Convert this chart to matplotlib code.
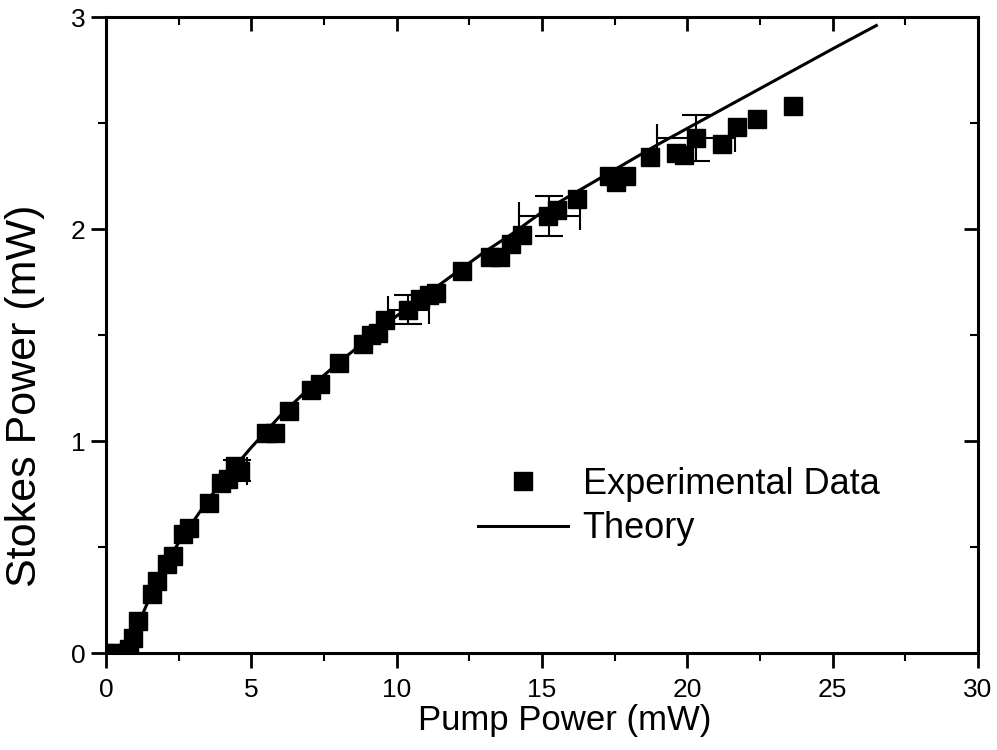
import matplotlib.pyplot as plt
from matplotlib.ticker import MultipleLocator

plt.rcParams['font.family'] = ['Liberation Sans', 'DejaVu Sans']

# Experimental data (pump power mW, Stokes power mW)
pump = [0.0, 0.35, 0.7, 0.8, 0.93, 1.1, 1.6, 1.75, 2.1, 2.3, 2.65, 2.85, 3.55, 3.95,
        4.2, 4.45, 4.6, 5.5, 5.8, 6.3, 7.05, 7.35, 8.0, 8.85, 9.1, 9.35, 9.6, 10.4,
        10.8, 11.1, 11.35, 12.25, 13.2, 13.55, 13.95, 14.3, 15.2, 15.5, 16.2, 17.3,
        17.55, 17.9, 18.7, 19.6, 19.9, 20.3, 21.2, 21.7, 22.4, 23.65]
stokes = [0.0, 0.0, 0.0, 0.02, 0.07, 0.15, 0.28, 0.34, 0.42, 0.46, 0.56, 0.59, 0.71, 0.80,
          0.82, 0.88, 0.86, 1.04, 1.04, 1.14, 1.24, 1.27, 1.37, 1.46, 1.50, 1.51, 1.57, 1.62,
          1.67, 1.69, 1.70, 1.80, 1.87, 1.87, 1.93, 1.97, 2.06, 2.09, 2.14, 2.25,
          2.22, 2.25, 2.34, 2.36, 2.35, 2.43, 2.40, 2.48, 2.52, 2.58]

# points carrying error bars
err_pump = [4.5, 10.4, 15.25, 20.3]
err_stokes = [0.86, 1.62, 2.06, 2.43]
err_x = [0.35, 0.7, 1.05, 1.35]
err_y = [0.05, 0.07, 0.095, 0.11]

# Theory curve
theory_pump = [0.75, 1.0, 1.5, 2.0, 2.5, 3.0, 3.5, 4.0, 5.0, 6.0, 7.0, 8.0, 9.0, 10.0,
               11.0, 12.0, 13.0, 14.0, 15.0, 16.0, 17.0, 18.0, 19.0, 20.0, 21.0, 22.0,
               23.0, 24.0, 25.0, 26.5]
theory_stokes = [0.0, 0.1, 0.26, 0.41, 0.52, 0.62, 0.72, 0.81, 0.97, 1.12, 1.25, 1.37,
                 1.48, 1.59, 1.69, 1.79, 1.89, 1.98, 2.08, 2.16, 2.24, 2.32, 2.40, 2.475,
                 2.55, 2.625, 2.70, 2.775, 2.85, 2.96]

fig = plt.figure(figsize=(9.97, 7.5), dpi=100)
ax = fig.add_axes([0.1063, 0.1293, 0.8747, 0.8480])

ax.plot(theory_pump, theory_stokes, color='black', linewidth=2.2, label='Theory')
ax.errorbar(err_pump, err_stokes, xerr=err_x, yerr=err_y, fmt='none', ecolor='black',
            elinewidth=1.5, capsize=10, capthick=1.5)
ax.plot(pump, stokes, 's', color='black', markersize=13, label='Experimental Data')

ax.set_xlim(0, 30)
ax.set_ylim(0, 3)
ax.xaxis.set_major_locator(MultipleLocator(5))
ax.xaxis.set_minor_locator(MultipleLocator(2.5))
ax.yaxis.set_major_locator(MultipleLocator(1))
ax.yaxis.set_minor_locator(MultipleLocator(0.5))
ax.tick_params(which='major', direction='out', length=11, width=2, labelsize=19)
ax.tick_params(which='minor', direction='out', length=6, width=1.5)
ax.tick_params(axis='x', pad=7)
ax.tick_params(axis='y', pad=4)
for s in ax.spines.values():
    s.set_linewidth(2.2)

# top and right ticks point inward
top = ax.secondary_xaxis('top')
top.xaxis.set_major_locator(MultipleLocator(5))
top.xaxis.set_minor_locator(MultipleLocator(2.5))
top.tick_params(which='both', direction='in', labeltop=False)
top.tick_params(which='major', length=10, width=2)
top.tick_params(which='minor', length=6, width=1.5)
right = ax.secondary_yaxis('right')
right.yaxis.set_major_locator(MultipleLocator(1))
right.yaxis.set_minor_locator(MultipleLocator(0.5))
right.tick_params(which='both', direction='in', labelright=False)
right.tick_params(which='major', length=10, width=2)
right.tick_params(which='minor', length=6, width=1.5)

ax.set_xlabel('Pump Power (mW)', fontsize=25)
ax.xaxis.set_label_coords(0.526, -0.08)
ax.set_ylabel('Stokes Power (mW)', fontsize=31)
ax.yaxis.set_label_coords(-0.07, 0.405)

handles, labels = ax.get_legend_handles_labels()
ax.legend(handles[::-1], labels[::-1], loc='upper left', bbox_to_anchor=(0.41, 0.315),
          frameon=False, fontsize=26, handlelength=2.5, handletextpad=0.4,
          borderaxespad=0, labelspacing=0.25)

fig.savefig('out.png', dpi=100)
